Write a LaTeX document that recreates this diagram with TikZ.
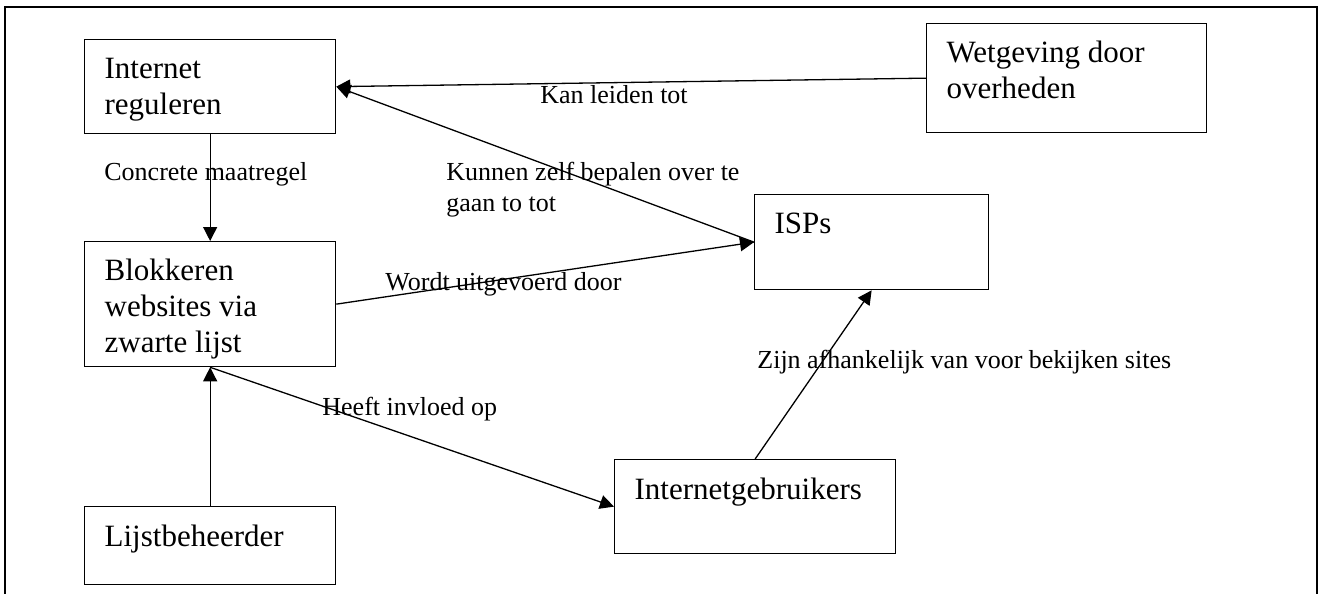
\documentclass[tikz,border=0pt]{standalone}
\usepackage{fontspec}
\setmainfont{Liberation Serif}
\usetikzlibrary{arrows.meta}
\begin{document}
\begin{tikzpicture}[x=0.5pt,y=-0.5pt,
  box/.style={draw, line width=0.65pt, anchor=north west, inner xsep=10pt, inner ysep=0pt,
    align=flush left, font=\fontsize{15.5pt}{18pt}\selectfont},
  lbl/.style={font=\fontsize{13pt}{15.5pt}\selectfont, anchor=base west, inner sep=0pt},
  arr/.style={-{Triangle[width=7pt,length=7pt]}, line width=0.65pt}]
\useasboundingbox (0,0) rectangle (1319,594);
\draw[line width=1pt] (5,594) -- (5,7) -- (1317,7) -- (1317,594);
% boxes
\node[box, text width=105.5pt, text height=19.5pt, text depth=27.5pt] (ir) at (84,39) {Internet\\reguleren};
\node[box, text width=105.5pt, text height=19.5pt, text depth=43pt] (bl) at (84,241) {Blokkeren\\websites via\\zwarte lijst};
\node[box, text width=105.5pt, text height=20pt, text depth=19pt] (lb) at (84,506) {Lijstbeheerder};
\node[box, text width=120pt, text height=19.5pt, text depth=35pt] (wg) at (926,23) {Wetgeving door\\overheden};
\node[box, text width=97pt, text height=19.5pt, text depth=28pt] (isp) at (754,194) {ISPs};
\node[box, text width=120.5pt, text height=20pt, text depth=27pt] (ig) at (614,459) {Internetgebruikers};
% connectors
\draw[arr] (wg.west) -- (ir.east);
\draw[arr] (isp.west) -- (ir.east);
\draw[arr] (ir.south) -- (bl.north);
\draw[arr] (bl.east) -- (isp.west);
\draw[arr] (lb.north) -- (bl.south);
\draw[arr] (bl.south) -- (ig.west);
\draw[arr] (ig.north) -- (isp.south);
% labels
\node[lbl] (l1) at (540,103) {Kan leiden tot};
\node[lbl] (l2) at (104,180) {Concrete maatregel};
\node[lbl, text width=170pt, align=flush left] (l3) at (446,180) {Kunnen zelf bepalen over te\\gaan to tot};
\node[lbl] (l4) at (385,290) {Wordt uitgevoerd door};
\node[lbl] (l5) at (322,415) {Heeft invloed op};
\node[lbl] (l6) at (757,368) {Zijn afhankelijk van voor bekijken sites};
\end{tikzpicture}
\end{document}
